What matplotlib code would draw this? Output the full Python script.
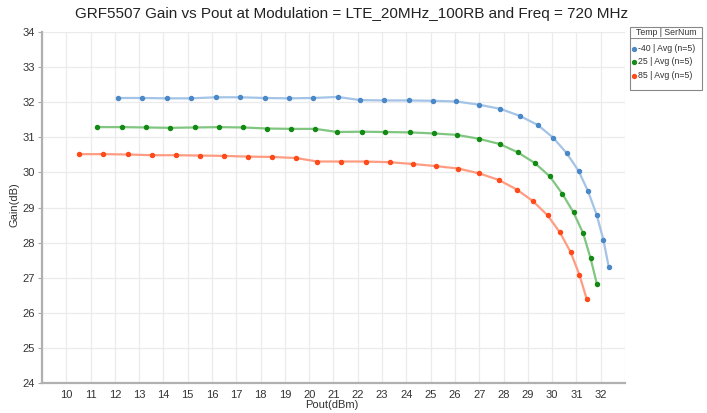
import matplotlib
matplotlib.use("Agg")
import matplotlib.pyplot as plt
from matplotlib.lines import Line2D
from matplotlib.patches import Rectangle

plt.rcParams['font.family'] = ['Liberation Sans', 'DejaVu Sans']

title = "GRF5507 Gain vs Pout at Modulation = LTE_20MHz_100RB and Freq = 720 MHz"
x_label = "Pout(dBm)"
y_label = "Gain(dB)"
legend_title = "Temp | SerNum"
series_names = ["-40 | Avg (n=5)", "25 | Avg (n=5)", "85 | Avg (n=5)"]

pout_m40 = [12.14, 13.13, 14.14, 15.13, 16.16, 17.16, 18.16, 19.16, 20.15, 21.17,
            22.10, 23.09, 24.09, 25.10, 26.06, 26.98, 27.87, 28.67, 29.41, 30.04,
            30.60, 31.09, 31.48, 31.83, 32.11, 32.33]
gain_m40 = [32.12, 32.12, 32.11, 32.11, 32.14, 32.14, 32.12, 32.11, 32.12, 32.15,
            32.06, 32.05, 32.05, 32.04, 32.02, 31.93, 31.81, 31.61, 31.35, 30.99,
            30.55, 30.04, 29.46, 28.80, 28.08, 27.31]

pout_25 = [11.28, 12.31, 13.29, 14.27, 15.30, 16.29, 17.29, 18.28, 19.26, 20.25,
           21.16, 22.17, 23.14, 24.14, 25.12, 26.07, 26.97, 27.84, 28.59, 29.28,
           29.90, 30.42, 30.88, 31.28, 31.58, 31.84]
gain_25 = [31.29, 31.29, 31.28, 31.27, 31.28, 31.29, 31.28, 31.25, 31.24, 31.24,
           31.15, 31.16, 31.15, 31.14, 31.11, 31.07, 30.96, 30.81, 30.57, 30.27,
           29.89, 29.39, 28.86, 28.26, 27.56, 26.83]

pout_85 = [10.52, 11.53, 12.53, 13.52, 14.52, 15.51, 16.50, 17.48, 18.46, 19.45,
           20.34, 21.32, 22.32, 23.31, 24.27, 25.20, 26.14, 27.01, 27.82, 28.55,
           29.21, 29.81, 30.32, 30.76, 31.12, 31.42]
gain_85 = [30.52, 30.52, 30.51, 30.49, 30.49, 30.48, 30.47, 30.45, 30.44, 30.41,
           30.31, 30.31, 30.31, 30.29, 30.24, 30.18, 30.11, 29.97, 29.78, 29.51,
           29.18, 28.78, 28.29, 27.73, 27.09, 26.40]

x_ticks = list(range(10, 33))
y_ticks = list(range(24, 35))

line_colors = ["#a3c4e6", "#80c680", "#ff9c82"]
marker_colors = ["#4a88c8", "#138a13", "#ff4a1a"]

fig = plt.figure(figsize=(7.07, 4.13), dpi=100)
ax = fig.add_axes([42/707, 1-383/413, (625-42)/707, (383-32)/413])

data = [(pout_m40, gain_m40), (pout_25, gain_25), (pout_85, gain_85)]
for (xs, ys), lc, mc in zip(data, line_colors, marker_colors):
    ax.plot(xs, ys, color=lc, lw=1.6, zorder=2)
    ax.plot(xs, ys, ls='none', marker='o', ms=2.9, mfc=mc, mec=mc, zorder=3)

ax.set_xlim(9, 33)
ax.set_ylim(24, 34)
ax.set_xticks(x_ticks)
ax.set_yticks(y_ticks)
ax.set_xticks([9, 33], minor=True)
ax.grid(True, which='both', color='#ebebeb', lw=0.9, zorder=0)
ax.tick_params(axis='x', length=0, labelsize=8, colors='#333333', pad=5)
ax.tick_params(axis='y', length=3, width=0.8, color='#aaaaaa', labelsize=8, labelcolor='#333333', pad=2)
ax.tick_params(which='minor', length=0)
for s in ['top', 'right']:
    ax.spines[s].set_visible(False)
for s in ['left', 'bottom']:
    ax.spines[s].set_color('#b0b0b0')
    ax.spines[s].set_linewidth(1.6)

fig.text(352/707, 1-14/413, title, ha='center', va='center', fontsize=11, color='#222222')
fig.text(332/707, 1-405/413, x_label, ha='center', va='center', fontsize=8, color='#333333')
fig.text(15/707, 1-205/413, y_label, ha='center', va='center', rotation=90, fontsize=8, color='#333333')

# legend box
lx0, lx1 = 630/707, 702/707
ly0, ly1 = 1-90/413, 1-27/413
fig.add_artist(Rectangle((lx0, ly0), lx1-lx0, ly1-ly0, transform=fig.transFigure,
                         fill=True, facecolor='white', edgecolor='#888888', lw=0.8))
fig.add_artist(Line2D([lx0, lx1], [1-38/413, 1-38/413], transform=fig.transFigure,
                      color='#888888', lw=0.7))
fig.text((lx0+lx1)/2, 1-32.5/413, legend_title, ha='center', va='center', fontsize=6.3, color='#333333')
entry_y = [48.5, 61.5, 75.5]
for name, mc, yy in zip(series_names, marker_colors, entry_y):
    fig.add_artist(Line2D([633.5/707], [1-yy/413], transform=fig.transFigure, ls='none',
                          marker='o', ms=2.8, mfc=mc, mec=mc))
    fig.text(637.5/707, 1-yy/413, name, ha='left', va='center', fontsize=6.3, color='#333333')

fig.savefig("out.png", dpi=100)
